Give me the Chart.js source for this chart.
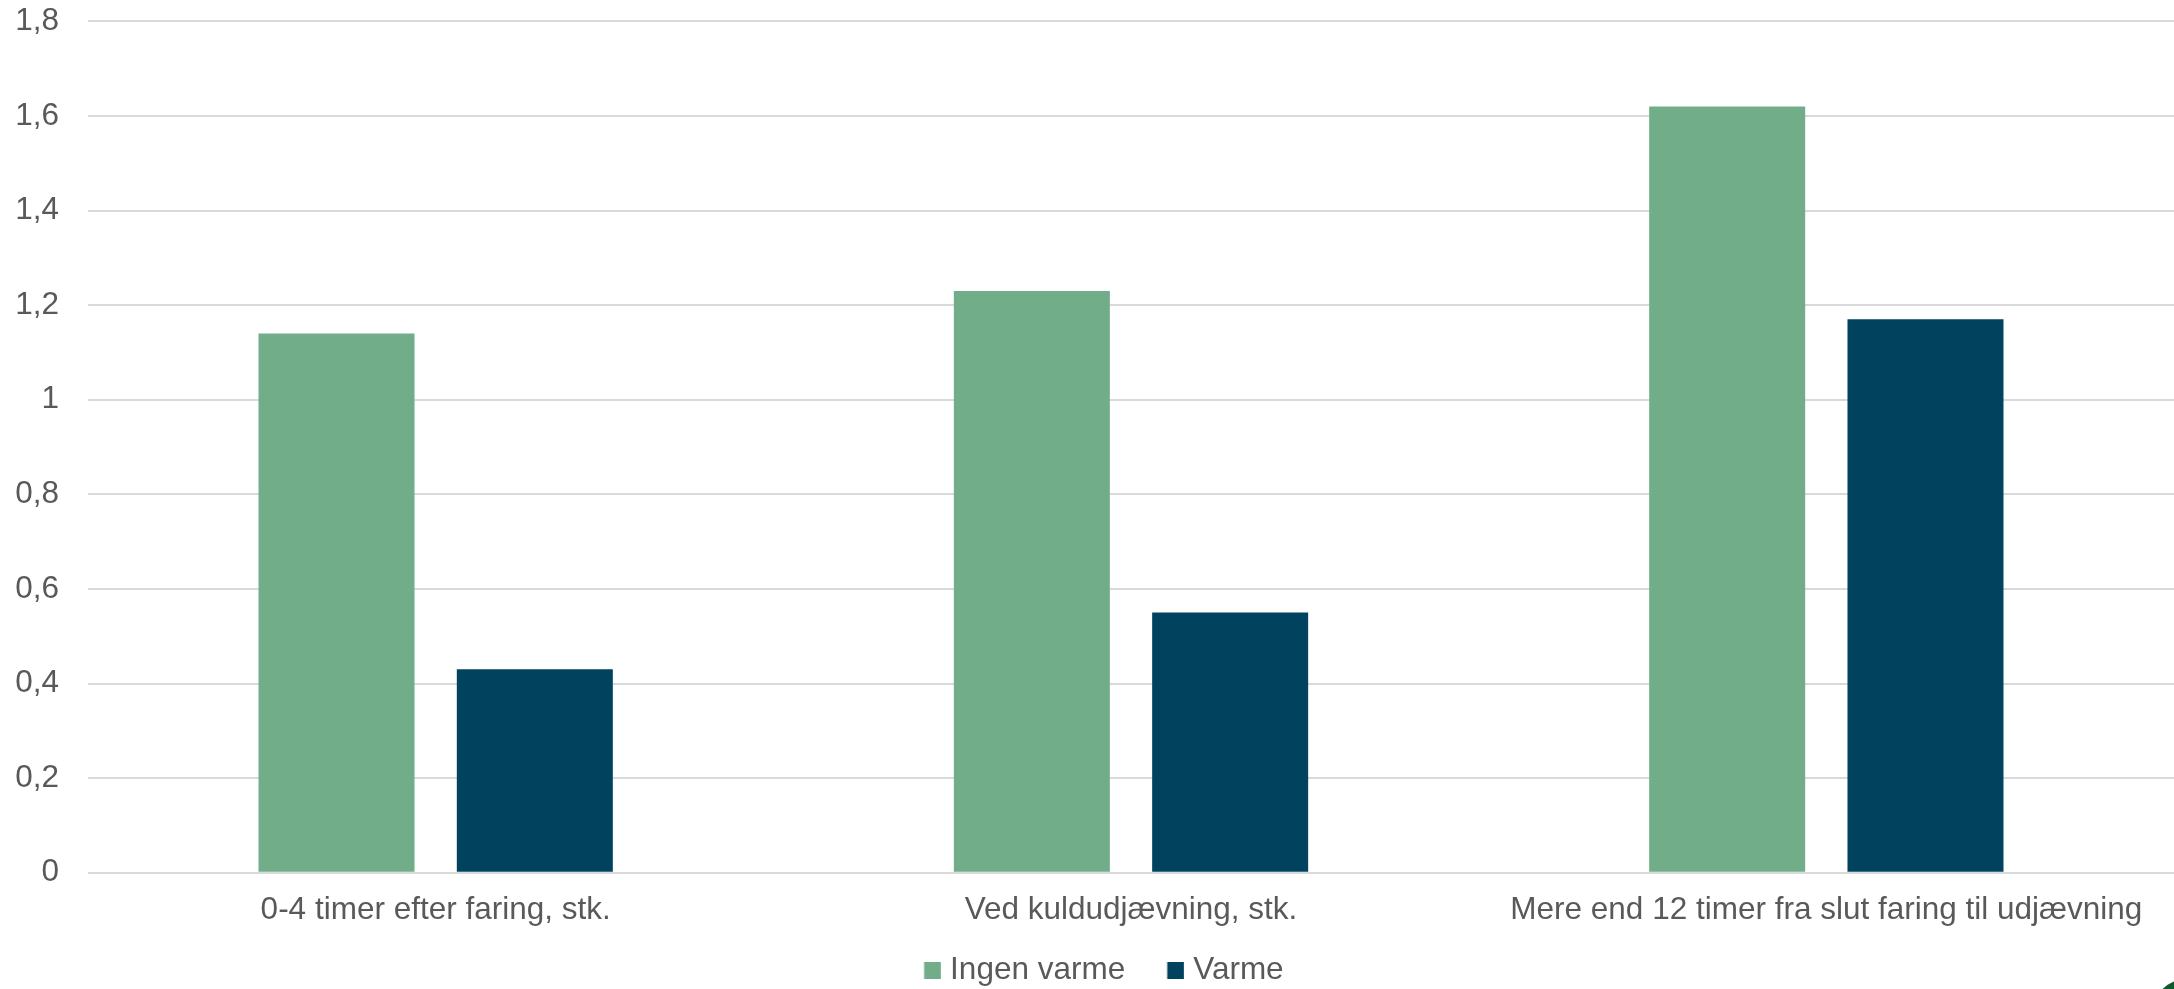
<!DOCTYPE html>
<html>
<head>
<meta charset="utf-8">
<script src="https://cdn.jsdelivr.net/npm/chart.js@4/dist/chart.umd.min.js"></script>
<style>
  html, body { margin: 0; padding: 0; background: #ffffff; overflow: hidden; }
  #wrap { position: relative; width: 2174px; height: 989px; }
  #logo { position: absolute; left: 2150px; top: 978px; width: 80px; height: 80px; border-radius: 50%; background: #0b5a2c; }
</style>
</head>
<body>
<div id="wrap"><canvas id="c"></canvas><div id="logo"></div></div>
<script>
const categories = ['0-4 timer efter faring, stk.', 'Ved kuldudjævning, stk.', 'Mere end 12 timer fra slut faring til udjævning'];
const seriesNames = ['Ingen varme', 'Varme'];
const ingenVarme = [1.14, 1.23, 1.62];
const varme = [0.43, 0.55, 1.17];
const yTickLabels = ['0', '0,2', '0,4', '0,6', '0,8', '1', '1,2', '1,4', '1,6', '1,8'];

const colors = ['#71ad89', '#01435e'];
const textColor = '#595959';
const fontFamily = '"Liberation Sans", Arial, sans-serif';
const fontSize = 31.5;

// legend icon: 17px square, offset inside a transparent canvas so that it sits 9px left of its text
const LEG_BOX = 44;
const ICON_W = 58;
function makeIcon(color) {
  const cv = document.createElement('canvas');
  cv.width = ICON_W; cv.height = 17;
  const cx = cv.getContext('2d');
  cx.fillStyle = color;
  const sqLeft = ICON_W / 2 + LEG_BOX / 2 + fontSize / 2 - 26;
  cx.fillRect(sqLeft, 0, 17, 17);
  return cv;
}
const legendIcons = colors.map(makeIcon);

new Chart(document.getElementById('c'), {
  type: 'bar',
  data: {
    labels: categories,
    datasets: [
      { label: seriesNames[0], data: ingenVarme, backgroundColor: colors[0], borderWidth: 0 },
      { label: seriesNames[1], data: varme, backgroundColor: colors[1], borderWidth: 0 }
    ]
  },
  options: {
    responsive: true,
    maintainAspectRatio: false,
    animation: false,
    devicePixelRatio: 1,
    datasets: { bar: { categoryPercentage: 0.5704, barPercentage: 0.7867 } },
    layout: { padding: { top: 21.3, left: 0, right: 0, bottom: 0 } },
    scales: {
      x: {
        grid: { display: false, drawTicks: false },
        border: { display: false },
        ticks: { color: textColor, font: { family: fontFamily, size: fontSize }, padding: 19, maxRotation: 0, autoSkip: false },
        afterFit: (s) => { s.height = 74.05; s.paddingLeft = 0; s.paddingRight = 0; }
      },
      y: {
        min: 0, max: 1.8,
        grid: { color: '#d9d9d9', lineWidth: 2, drawTicks: false },
        border: { display: false },
        ticks: {
          stepSize: 0.2,
          color: textColor,
          font: { family: fontFamily, size: fontSize },
          padding: 29,
          callback: (v) => yTickLabels[Math.round(v / 0.2)]
        },
        afterFit: (s) => { s.width = 88; s.paddingTop = 0; s.paddingBottom = 0; }
      }
    },
    plugins: {
      tooltip: { enabled: false },
      legend: {
        position: 'bottom',
        maxHeight: 42.25,
        labels: {
          usePointStyle: true,
          boxWidth: LEG_BOX,
          pointStyleWidth: LEG_BOX,
          padding: 8.25,
          color: textColor,
          font: { family: fontFamily, size: fontSize },
          generateLabels: (chart) => {
            const items = Chart.defaults.plugins.legend.labels.generateLabels(chart);
            items.forEach((it, i) => { it.pointStyle = legendIcons[i]; it.rotation = 0; });
            return items;
          }
        }
      }
    }
  }
});
</script>
</body>
</html>
